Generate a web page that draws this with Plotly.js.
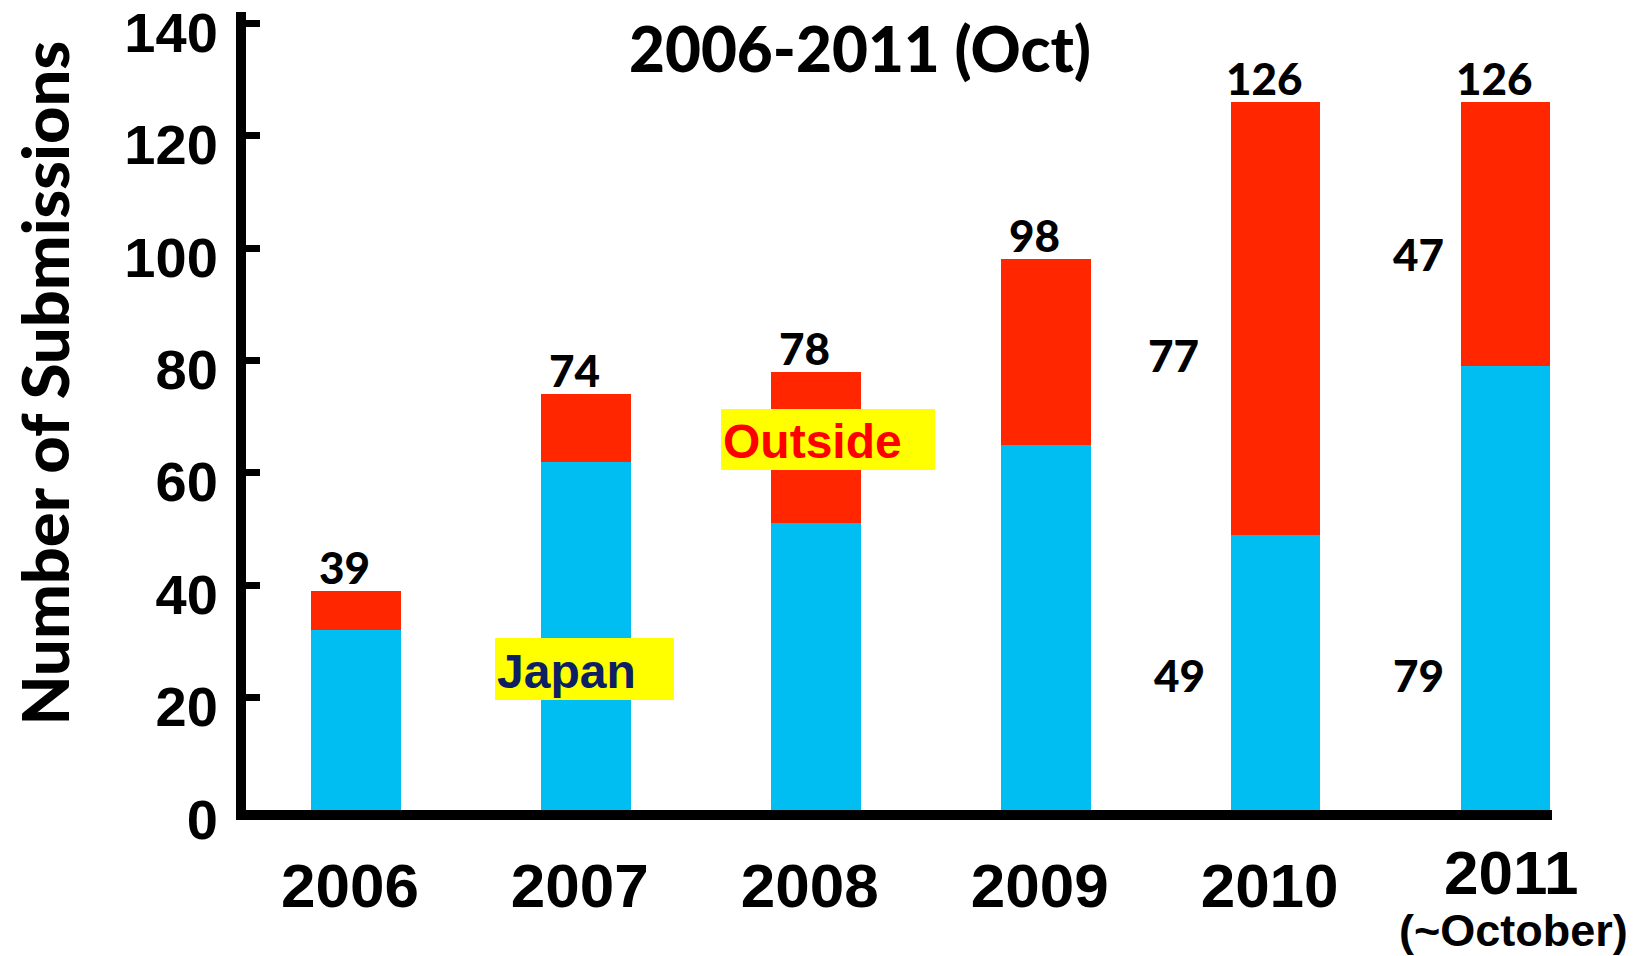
<!DOCTYPE html>
<html>
<head>
<meta charset="utf-8">
<script src="https://cdn.plot.ly/plotly-3.0.1.min.js"></script>
<style>
  html, body { margin: 0; padding: 0; background: #ffffff; }
  #chart { width: 1646px; height: 956px; }
</style>
</head>
<body>
<div id="chart"></div>
<script>
// ---- data ----
var years = ['2006', '2007', '2008', '2009', '2010', '2011'];
var japan = [32, 62, 51, 65, 49, 79];
var outside = [7, 12, 27, 33, 77, 47];
var totals = [39, 74, 78, 98, 126, 126];
var yTickVals = [0, 20, 40, 60, 80, 100, 120, 140];
var yTickText = ['0', '20', '40', '60', '80', '100', '120', '140'];
var lastYearNote = '(~October)';

var BLUE = '#00BEF2';
var RED = '#FF2600';

var traces = [
  {
    type: 'bar', name: 'Japan', x: years, y: japan,
    width: 0.39, marker: { color: BLUE, line: { width: 0 } },
    hoverinfo: 'skip'
  },
  {
    type: 'bar', name: 'Outside', x: years, y: outside,
    width: 0.39, marker: { color: RED, line: { width: 0 } },
    hoverinfo: 'skip'
  }
];

var numFont = { family: 'Lato, "Open Sans", sans-serif', size: 44, color: '#000000', weight: 900 };
var xLabFont = { family: '"Liberation Sans", Arial, sans-serif', size: 62, color: '#000000', weight: 'bold' };

// category index of each year on the category axis
function idx(year) { return years.indexOf(year); }
var lastYear = years[years.length - 1];

var annotations = [];
// total labels above each bar
for (var i = 0; i < years.length; i++) {
  annotations.push({
    x: idx(years[i]), y: totals[i], xref: 'x', yref: 'y',
    text: String(totals[i]), showarrow: false,
    xanchor: 'center', yanchor: 'bottom', xshift: -11, yshift: -4,
    font: numFont
  });
}
// segment labels for the last two years (left of the bars)
annotations.push({ x: idx('2010'), y: 81, xref: 'x', yref: 'y', text: String(outside[4]),
  showarrow: false, xanchor: 'center', yanchor: 'middle', xshift: -102, font: numFont });
annotations.push({ x: idx('2010'), y: 24, xref: 'x', yref: 'y', text: String(japan[4]),
  showarrow: false, xanchor: 'center', yanchor: 'middle', xshift: -96, font: numFont });
annotations.push({ x: idx('2011'), y: 99, xref: 'x', yref: 'y', text: String(outside[5]),
  showarrow: false, xanchor: 'center', yanchor: 'middle', xshift: -87, font: numFont });
annotations.push({ x: idx('2011'), y: 24, xref: 'x', yref: 'y', text: String(japan[5]),
  showarrow: false, xanchor: 'center', yanchor: 'middle', xshift: -87, font: numFont });

// series name boxes
annotations.push({
  x: idx('2007'), y: 25.1, xref: 'x', yref: 'y', text: '<b>Japan</b>', showarrow: false,
  xanchor: 'center', yanchor: 'middle', xshift: -1.5,
  width: 175, height: 58, align: 'left', valign: 'bottom',
  bgcolor: '#FFFF00', borderpad: 2, borderwidth: 0,
  font: { family: '"Liberation Sans", Arial, sans-serif', size: 48, color: '#0D2063' }
});
annotations.push({
  x: idx('2008'), y: 65.9, xref: 'x', yref: 'y', text: '<b>Outside</b>', showarrow: false,
  xanchor: 'center', yanchor: 'middle', xshift: 12.5,
  width: 210, height: 57, align: 'left', valign: 'bottom',
  bgcolor: '#FFFF00', borderpad: 2, borderwidth: 0,
  font: { family: '"Liberation Sans", Arial, sans-serif', size: 48, color: '#FF0000' }
});

// y axis title (rotated)
annotations.push({
  x: -0.1543, y: 0.535, xref: 'paper', yref: 'paper',
  text: 'Number of Submissions', showarrow: false, textangle: -90,
  xanchor: 'center', yanchor: 'middle',
  font: { family: 'Lato, "Open Sans", sans-serif', size: 65, color: '#000000', weight: 900 }
});

// last year's category label (sits higher, with a note below it)
annotations.push({
  x: idx(lastYear), y: -0.0783, xref: 'x', yref: 'paper',
  text: lastYear, showarrow: false,
  xanchor: 'center', yanchor: 'middle', xshift: 6,
  font: xLabFont
});
annotations.push({
  x: idx(lastYear), y: -0.1504, xref: 'x', yref: 'paper',
  text: '<b>' + lastYearNote + '</b>', showarrow: false,
  xanchor: 'center', yanchor: 'middle', xshift: 8,
  font: { family: '"Liberation Sans", Arial, sans-serif', size: 45, color: '#000000' }
});

var layout = {
  width: 1646, height: 956,
  margin: { l: 246, r: 94, t: 12, b: 146, pad: 0 },
  paper_bgcolor: '#ffffff', plot_bgcolor: '#ffffff',
  barmode: 'stack', showlegend: false, hovermode: false,
  title: {
    text: '2006-2011 (Oct)',
    xref: 'container', yref: 'container',
    x: 0.5225, y: 0.9477, xanchor: 'center', yanchor: 'middle',
    font: { family: 'Lato, "Open Sans", sans-serif', size: 62, color: '#000000', weight: 900 }
  },
  xaxis: {
    type: 'category', range: [-0.478, 5.202],
    showline: true, linecolor: '#000000', linewidth: 10,
    showgrid: false, zeroline: false, ticks: '',
    tickvals: years,
    ticktext: years.map(function (y) { return y === lastYear ? '' : y; }),
    ticklabelstandoff: 13, ticklabelshift: -6,
    tickfont: xLabFont
  },
  yaxis: {
    range: [0, 142],
    showline: true, linecolor: '#000000', linewidth: 10,
    showgrid: false, zeroline: false,
    ticks: 'inside', ticklen: 14, tickwidth: 7, tickcolor: '#000000',
    tickvals: yTickVals, ticktext: yTickText,
    ticklabelstandoff: 7, ticklabelshift: 9, ticklabeloverflow: 'allow',
    tickfont: { family: '"Liberation Sans", Arial, sans-serif', size: 56, color: '#000000', weight: 'bold' }
  },
  annotations: annotations
};

Plotly.newPlot('chart', traces, layout, { staticPlot: true, displayModeBar: false });
</script>
</body>
</html>
